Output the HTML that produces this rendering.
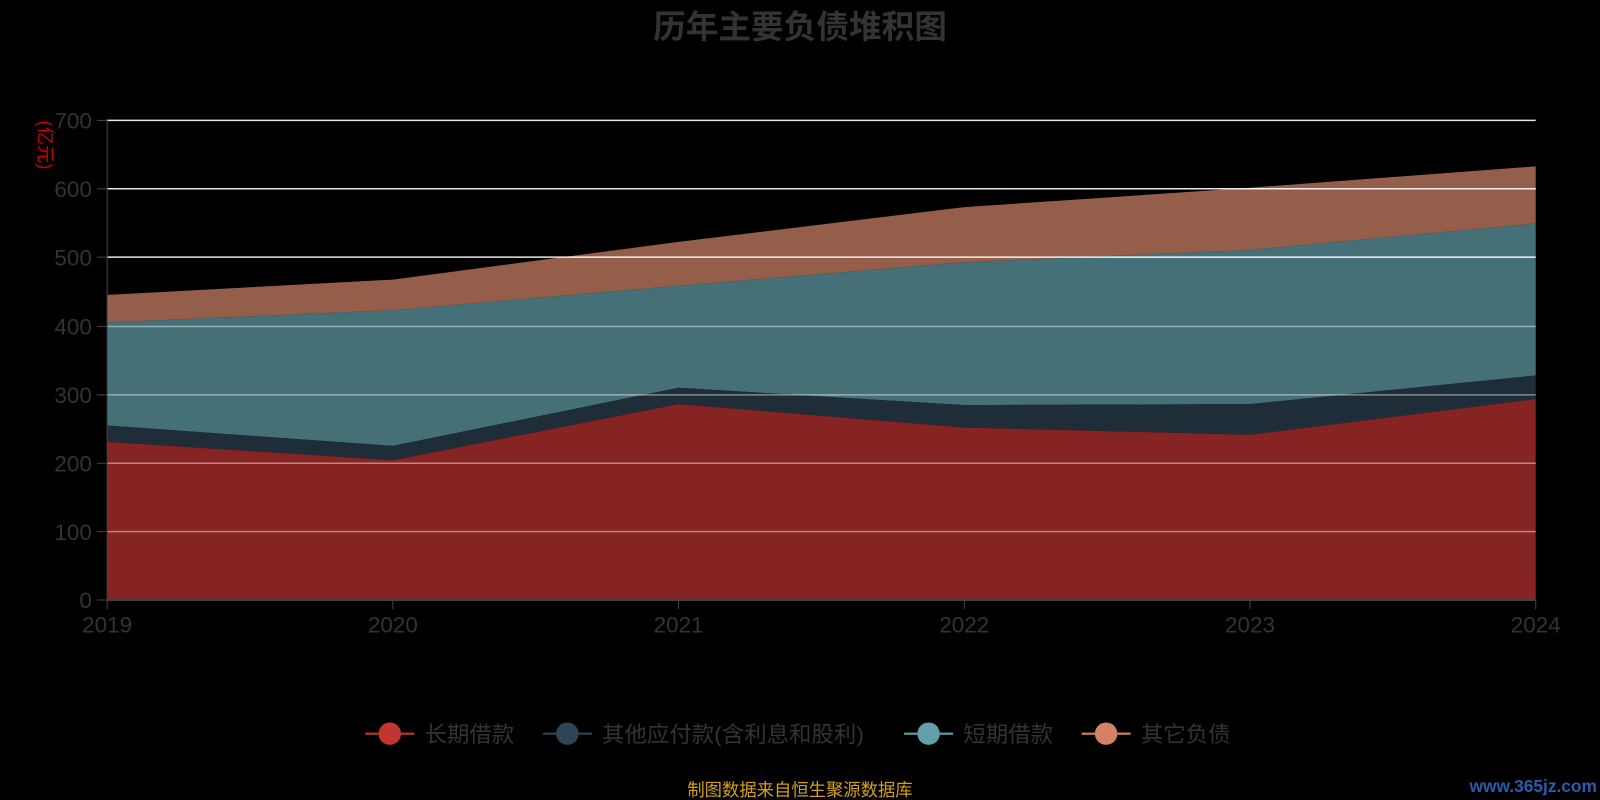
<!DOCTYPE html>
<html><head><meta charset="utf-8"><style>
body{margin:0;background:#000;}
svg{display:block;}
svg text{font-family:"Liberation Sans","Noto Sans CJK SC",sans-serif;}
</style></head><body>
<svg width="1600" height="800" viewBox="0 0 1568 784" preserveAspectRatio="none" xmlns="http://www.w3.org/2000/svg">
<rect width="1568" height="784" fill="#000"/>
<text x="784" y="37" text-anchor="middle" font-size="32" font-weight="bold" fill="#333">历年主要负债堆积图</text>
<polygon fill="#945e4a" points="105,289 385,274 665,237 945,203 1225,184 1505,163 1505,219 1225,245 945,257 665,280 385,304 105,316"/>
<polygon fill="#467077" points="105,316 385,304 665,280 945,257 1225,245 1505,219 1505,368 1225,396 945,397 665,380 385,437 105,417"/>
<polygon fill="#1f2d38" points="105,417 385,437 665,380 945,397 1225,396 1505,368 1505,391 1225,426 945,419 665,396 385,451 105,433"/>
<polygon fill="#862323" points="105,433 385,451 665,396 945,419 1225,426 1505,391 1505,588 105,588"/>
<g stroke="#fff" stroke-opacity="0.45" stroke-width="1.5">
<line x1="105" y1="521" x2="1505" y2="521"/><line x1="105" y1="454" x2="1505" y2="454"/>
<line x1="105" y1="387" x2="1505" y2="387"/><line x1="105" y1="320" x2="1505" y2="320"/>
</g>
<g stroke="#fff" stroke-opacity="0.9" stroke-width="1.5">
<line x1="105" y1="252" x2="1505" y2="252"/><line x1="105" y1="185" x2="1505" y2="185"/><line x1="105" y1="118" x2="1505" y2="118"/>
</g>
<line x1="105" y1="118" x2="105" y2="588" stroke="#444"/>
<line x1="105" y1="588" x2="1505" y2="588" stroke="#2f4a4e" stroke-width="2"/>
<g stroke="#444"><line x1="95" y1="118" x2="105" y2="118"/><line x1="95" y1="185" x2="105" y2="185"/><line x1="95" y1="252" x2="105" y2="252"/><line x1="95" y1="320" x2="105" y2="320"/><line x1="95" y1="387" x2="105" y2="387"/><line x1="95" y1="454" x2="105" y2="454"/><line x1="95" y1="521" x2="105" y2="521"/><line x1="95" y1="588" x2="105" y2="588"/>
<line x1="105" y1="588" x2="105" y2="597"/><line x1="385" y1="588" x2="385" y2="597"/><line x1="665" y1="588" x2="665" y2="597"/><line x1="945" y1="588" x2="945" y2="597"/><line x1="1225" y1="588" x2="1225" y2="597"/><line x1="1505" y1="588" x2="1505" y2="597"/></g>
<g font-size="22" fill="#333" text-anchor="end">
<text x="90" y="126">700</text><text x="90" y="193">600</text><text x="90" y="260">500</text><text x="90" y="328">400</text><text x="90" y="395">300</text><text x="90" y="462">200</text><text x="90" y="529">100</text><text x="90" y="596">0</text></g>
<g font-size="22" fill="#333" text-anchor="middle">
<text x="105" y="620">2019</text><text x="385" y="620">2020</text><text x="665" y="620">2021</text><text x="945" y="620">2022</text><text x="1225" y="620">2023</text><text x="1505" y="620">2024</text></g>
<text transform="translate(38,142) rotate(90)" font-size="18" fill="#c00" text-anchor="middle">(亿元)</text>
<g font-size="22" fill="#333">
<line x1="358" y1="719" x2="406" y2="719" stroke="#c23531" stroke-width="2"/><circle cx="382" cy="719" r="11" fill="#c23531"/><text x="416" y="727">长期借款</text>
<line x1="532" y1="719" x2="580" y2="719" stroke="#2f4554" stroke-width="2"/><circle cx="556" cy="719" r="11" fill="#2f4554"/><text x="590" y="727">其他应付款(含利息和股利)</text>
<line x1="886" y1="719" x2="934" y2="719" stroke="#61a0a8" stroke-width="2"/><circle cx="910" cy="719" r="11" fill="#61a0a8"/><text x="944" y="727">短期借款</text>
<line x1="1060" y1="719" x2="1108" y2="719" stroke="#d48265" stroke-width="2"/><circle cx="1084" cy="719" r="11" fill="#d48265"/><text x="1118" y="727">其它负债</text>
</g>
<text x="784" y="780" font-size="17" fill="#d4a017" text-anchor="middle">制图数据来自恒生聚源数据库</text>
<text x="1565" y="776" font-size="17" font-weight="bold" fill="#2a5caa" text-anchor="end">www.365jz.com</text>
</svg>
</body></html>
